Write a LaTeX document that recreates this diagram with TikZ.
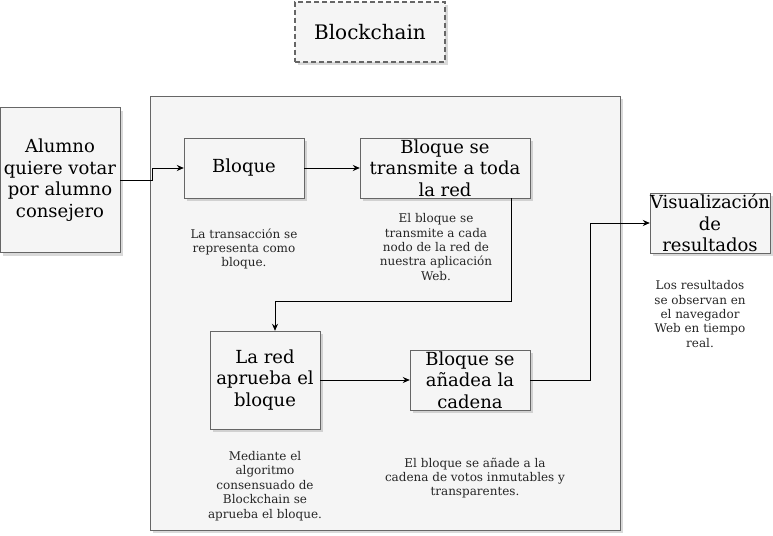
\documentclass[tikz,border=0pt]{standalone}
\usepackage{fontspec}
\setmainfont{DejaVu Serif}
\usetikzlibrary{shadows,arrows.meta}

\begin{document}
\begin{tikzpicture}[x=1pt,y=-1pt,
  box/.style={draw=black!60, fill=black!4, align=center, inner sep=0pt,
    drop shadow={shadow xshift=3pt, shadow yshift=-3pt, opacity=0.3},
    font=\fontsize{18}{21.6}\selectfont},
  note/.style={align=center, text=black!85, font=\fontsize{12}{14.4}\selectfont},
  link/.style={-{Stealth[length=7pt,width=6pt]}, line width=0.8pt}]
\useasboundingbox (0,0) rectangle (773,535);

\node[box, dashed, line width=1.4pt, dash pattern=on 5pt off 3pt,
  minimum width=150pt, minimum height=60pt, font=\fontsize{20}{24}\selectfont]
  (titulo) at (370,32) {Blockchain};
\node[box, minimum width=470pt, minimum height=434pt] (panel) at (385,313) {};

\node[box, minimum width=120pt, minimum height=145pt] (alumno) at (60,180)
  {Alumno\\quiere votar\\por alumno\\consejero};
\node[box, minimum width=120pt, minimum height=60pt] (bloque) at (244,168) {Bloque};
\node[box, minimum width=170pt, minimum height=60pt] (difunde) at (445,168)
  {Bloque se\\transmite a toda\\la red};
\node[box, minimum width=110pt, minimum height=98pt] (aprueba) at (265,380)
  {La red\\aprueba el\\bloque};
\node[box, minimum width=120pt, minimum height=60pt] (anade) at (470,380)
  {Bloque se\\añadea la\\cadena};
\node[box, minimum width=120pt, minimum height=60pt] (resultados) at (710,223)
  {Visualización\\de\\resultados};

\node[note] (nbloque) at (244,249) {La transacción se\\representa como\\bloque.};
\node[note] (ndifunde) at (436,247) {El bloque se\\transmite a cada\\nodo de la red de\\nuestra aplicación\\Web.};
\node[note] (nresultados) at (700,314) {Los resultados\\se observan en\\el navegador\\Web en tiempo\\real.};
\node[note] (naprueba) at (265,486) {Mediante el\\algoritmo\\consensuado de\\Blockchain se\\aprueba el bloque.};
\node[note] (nanade) at (475,478) {El bloque se añade a la\\cadena de votos inmutables y\\transparentes.};

\draw[link] (alumno.east) -- ++(32,0) |- (bloque.west);
\draw[link] (bloque) -- (difunde);
\draw[link] ([xshift=66pt]difunde.south) -- ++(0,103) -| ([xshift=10pt]aprueba.north);
\draw[link] (aprueba) -- (anade);
\draw[link] (anade.east) -- ++(60,0) |- (resultados.west);

\end{tikzpicture}
\end{document}
